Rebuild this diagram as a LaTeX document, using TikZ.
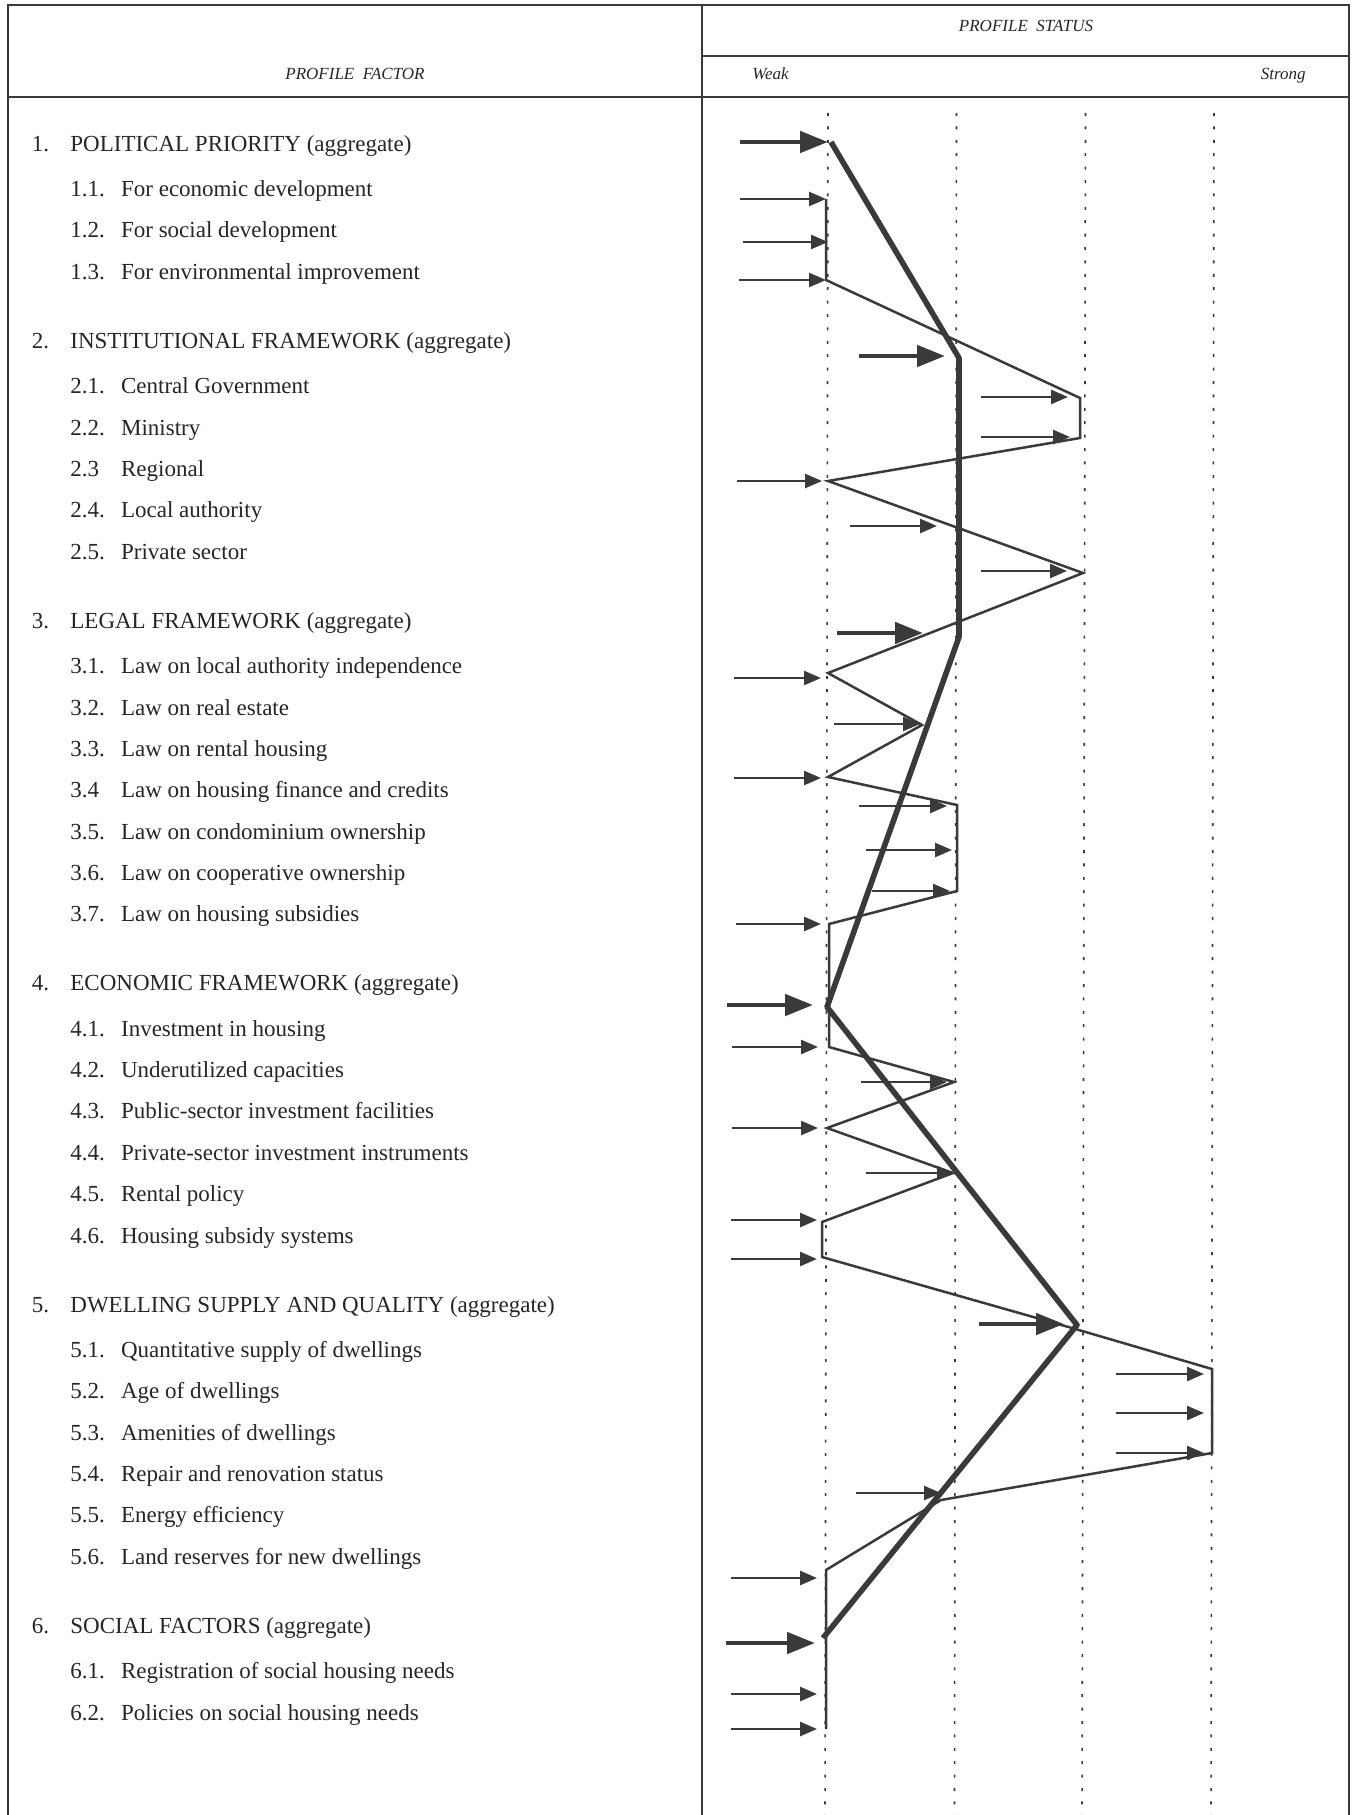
\documentclass[tikz,border=0pt]{standalone}
\usepackage{fontspec}
\setmainfont{Liberation Serif}
\usetikzlibrary{arrows.meta}
\definecolor{ink}{HTML}{3A3A3A}
\definecolor{txt}{HTML}{262626}
\begin{document}
\begin{tikzpicture}[x=0.5pt,y=-0.5pt,
  frame/.style={draw=ink,line width=1pt},
  gridline/.style={draw=ink,line width=0.8pt,dash pattern=on 1.5pt off 5.2pt},
  thinline/.style={draw=ink,line width=1.25pt,line join=miter},
  thickline/.style={draw=ink,line width=2.8pt,line join=round},
  thinarrow/.style={draw=ink,line width=1.25pt,-{Triangle[length=8.5pt 0,width=7pt 0]}},
  thickarrow/.style={draw=ink,line width=2.4pt,-{Triangle[length=14pt 0,width=10.5pt 0]}},
  lab/.style={anchor=base west,inner sep=0pt,font=\fontsize{11.5}{13}\selectfont,text=txt},
  hdr/.style={inner sep=0pt,font=\fontsize{8.5}{10}\selectfont\itshape,text=txt}
]
\useasboundingbox (0,0) rectangle (1356,1815);
\fill[white] (0,0) rectangle (1356,1815);

% frame
\coordinate (tl) at (8,5);
\coordinate (tr) at (1349,5);
\coordinate (bl) at (8,1815);
\coordinate (br) at (1349,1815);
\coordinate (dt) at (702,5);
\coordinate (db) at (702,1815);
\coordinate (hl) at (8,97);
\coordinate (hr) at (1349,97);
\coordinate (ml) at (702,56);
\coordinate (mr) at (1349,56);
\draw[frame] (bl) -- (tl) -- (tr) -- (br);
\draw[frame] (dt) -- (db);
\draw[frame] (hl) -- (hr);
\draw[frame] (ml) -- (mr);

% header texts
\node[hdr,anchor=base] (hstatus) at (1026,32) {PROFILE\ \ STATUS};
\node[hdr,anchor=base] (hfactor) at (355,79) {PROFILE\ \ FACTOR};
\node[hdr,anchor=base west] (hweak) at (752,79) {Weak};
\node[hdr,anchor=base east] (hstrong) at (1306,79) {Strong};

% dotted scale lines
\foreach \i/\xa/\xb in {1/828/825,2/956.5/954.5,3/1085.5/1082,4/1214/1211}{
  \coordinate (g\i a) at (\xa,113);
  \coordinate (g\i b) at (\xb,1815);
  \draw[gridline] (g\i a) -- (g\i b);
}

% labels: group heads
\foreach \n/\y/\num/\t in {
  h1/151/1./{POLITICAL PRIORITY (aggregate)},
  h2/348.2/2./{INSTITUTIONAL FRAMEWORK (aggregate)},
  h3/628.1/3./{LEGAL FRAMEWORK (aggregate)},
  h4/990.7/4./{ECONOMIC FRAMEWORK (aggregate)},
  h5/1312/5./{DWELLING SUPPLY AND QUALITY (aggregate)},
  h6/1633.3/6./{SOCIAL FACTORS (aggregate)}}{
  \node[lab] (\n n) at (31.5,\y) {\num};
  \node[lab] (\n t) at (70,\y) {\t};
}
% labels: sub items
\foreach \n/\y/\num/\t in {
  s11/196.5/1.1./{For economic development},
  s12/237.9/1.2./{For social development},
  s13/279.2/1.3./{For environmental improvement},
  s21/393.7/2.1./{Central Government},
  s22/435.1/2.2./{Ministry},
  s23/476.4/2.3/{Regional},
  s24/517.8/2.4./{Local authority},
  s25/559.1/2.5./{Private sector},
  s31/673.6/3.1./{Law on local authority independence},
  s32/715.0/3.2./{Law on real estate},
  s33/756.3/3.3./{Law on rental housing},
  s34/797.7/3.4/{Law on housing finance and credits},
  s35/839.0/3.5./{Law on condominium ownership},
  s36/880.4/3.6./{Law on cooperative ownership},
  s37/921.7/3.7./{Law on housing subsidies},
  s41/1036.2/4.1./{Investment in housing},
  s42/1077.6/4.2./{Underutilized capacities},
  s43/1118.9/4.3./{Public-sector investment facilities},
  s44/1160.3/4.4./{Private-sector investment instruments},
  s45/1201.6/4.5./{Rental policy},
  s46/1243.0/4.6./{Housing subsidy systems},
  s51/1357.5/5.1./{Quantitative supply of dwellings},
  s52/1398.9/5.2./{Age of dwellings},
  s53/1440.2/5.3./{Amenities of dwellings},
  s54/1481.6/5.4./{Repair and renovation status},
  s55/1522.9/5.5./{Energy efficiency},
  s56/1564.3/5.6./{Land reserves for new dwellings},
  s61/1678.8/6.1./{Registration of social housing needs},
  s62/1720.2/6.2./{Policies on social housing needs}}{
  \node[lab] (\n n) at (70,\y) {\num};
  \node[lab] (\n t) at (120.7,\y) {\t};
}

% thin profile (sub items)
\foreach \i/\x/\y in {1/826/199,2/826/280,3/1080/398,4/1080/438,5/828/481,6/1083/573,
  7/828/673,8/922/725,9/828/777,10/957/805,11/957/891,12/829/924,13/829/1047,
  14/954/1082,15/827/1128,16/953/1173,17/822/1222,18/822/1257,19/1072/1328,
  20/1212/1369,21/1212/1453,22/941/1500,23/826/1570,24/826/1729}{
  \coordinate (p\i) at (\x,\y);
}
\draw[thinline] (p1)
  \foreach \i in {2,...,24}{ -- (p\i)};

% thick profile (aggregates)
\coordinate (q1) at (831,142);
\coordinate (q2) at (959,358);
\coordinate (q3) at (959,637);
\coordinate (q4) at (827,1007);
\coordinate (q5) at (1077,1325);
\coordinate (q6) at (823,1638);
\draw[thickline] (q1) -- (q2) -- (q3) -- (q4) -- (q5) -- (q6);

% thin arrows
\foreach \n/\a/\b/\y in {
  a11/740/826/199, a12/743/828/242, a13/739/826/280,
  a21/981/1068/397, a22/981/1070/437, a23/737/822/481, a24/850/937/526, a25/981/1067/571,
  a31/734/821/678, a32/834/920/724, a33/734/821/778, a34/859/947/806, a35/866/952/850,
  a36/872/950/891, a37/736/821/924,
  a41/732/818/1047, a42/861/947/1082, a43/732/818/1128, a44/866/954/1173, a45/731/817/1220,
  a46/731/817/1259,
  a51/1116/1204/1374, a52/1116/1204/1413, a53/1116/1204/1453, a54/856/941/1493,
  a56/731/817/1578,
  a61/731/817/1694, a62/731/817/1729}{
  \coordinate (\n s) at (\a,\y);
  \coordinate (\n t) at (\b,\y);
  \draw[thinarrow] (\n s) -- (\n t);
}
% thick arrows
\foreach \n/\a/\b/\y in {
  b1/740/828/142, b2/859/945/356, b3/837/923/633, b4/727/813/1005,
  b5/979/1064/1324, b6/726/815/1643}{
  \coordinate (\n s) at (\a,\y);
  \coordinate (\n t) at (\b,\y);
  \draw[thickarrow] (\n s) -- (\n t);
}
\end{tikzpicture}
\end{document}
